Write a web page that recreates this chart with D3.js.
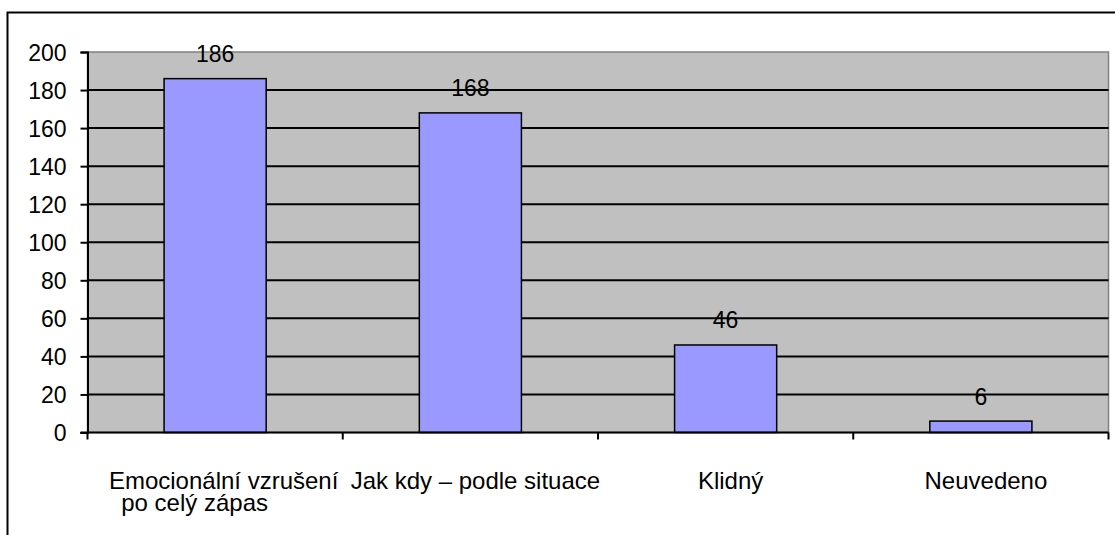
<!DOCTYPE html>
<html>
<head>
<meta charset="utf-8">
<script src="https://cdnjs.cloudflare.com/ajax/libs/d3/7.8.5/d3.min.js"></script>
<style>
body { margin: 0; background: #fff; }
svg text { font-family: Arial, "Liberation Sans", sans-serif; fill: #000; }
</style>
</head>
<body>
<div id="chart"></div>
<script>
// data
var categories = ["Emocionální vzrušení po celý zápas", "Jak kdy – podle situace", "Klidný", "Neuvedeno"];
var labelLines = [["Emocionální vzrušení", "po celý zápas"], ["Jak kdy – podle situace"], ["Klidný"], ["Neuvedeno"]];
var values = [186, 168, 46, 6];
var yTicks = [0, 20, 40, 60, 80, 100, 120, 140, 160, 180, 200];

var W = 1115, H = 535;
var plot = { left: 87.5, top: 52, right: 1108.5, bottom: 432.5 };
var fontSize = 23;
var catFontSize = 24;

var svg = d3.select("#chart").append("svg")
	.attr("width", W)
	.attr("height", H);

// outer chart frame (runs off the right and bottom edges)
svg.append("rect")
	.attr("x", 7.5).attr("y", 12.5)
	.attr("width", W + 20).attr("height", H + 20)
	.attr("fill", "#fff")
	.attr("stroke", "#000")
	.attr("stroke-width", 2);

var x = d3.scaleBand()
	.domain(categories)
	.range([plot.left, plot.right])
	.paddingInner(0.6)
	.paddingOuter(0.3);

var xCell = d3.scaleBand()
	.domain(categories)
	.range([plot.left, plot.right])
	.padding(0);

var y = d3.scaleLinear()
	.domain([0, 200])
	.range([plot.bottom, plot.top]);

// plot background
svg.append("rect")
	.attr("x", plot.left).attr("y", plot.top)
	.attr("width", plot.right - plot.left)
	.attr("height", plot.bottom - plot.top)
	.attr("fill", "#c0c0c0")
	.attr("stroke", "#808080")
	.attr("stroke-width", 1.5);

// gridlines
svg.append("g").selectAll("line")
	.data(yTicks.filter(function(d) { return d > 0 && d < 200; }))
	.enter().append("line")
	.attr("x1", plot.left).attr("x2", plot.right)
	.attr("y1", function(d) { return y(d); })
	.attr("y2", function(d) { return y(d); })
	.attr("stroke", "#000")
	.attr("stroke-width", 2);

// bars
svg.append("g").selectAll("rect")
	.data(values)
	.enter().append("rect")
	.attr("x", function(d, i) { return x(categories[i]); })
	.attr("y", function(d) { return y(d); })
	.attr("width", x.bandwidth())
	.attr("height", function(d) { return y(0) - y(d); })
	.attr("fill", "#9999ff")
	.attr("stroke", "#000")
	.attr("stroke-width", 1.5);

// value labels
svg.append("g").selectAll("text")
	.data(values)
	.enter().append("text")
	.attr("x", function(d, i) { return x(categories[i]) + x.bandwidth() / 2; })
	.attr("y", function(d) { return y(d) - 16.5; })
	.attr("text-anchor", "middle")
	.style("font-size", fontSize + "px")
	.text(function(d) { return d; });

// y axis
var yAxis = svg.append("g")
	.attr("transform", "translate(" + plot.left + ",0)")
	.call(d3.axisLeft(y).tickValues(yTicks).tickSize(7).tickPadding(14));
yAxis.select(".domain").attr("stroke", "#000").attr("stroke-width", 2);
yAxis.selectAll(".tick line").attr("stroke", "#000").attr("stroke-width", 2);
yAxis.selectAll(".tick text")
	.attr("dy", "0.36em")
	.style("font-size", fontSize + "px")
	.style("font-family", "Arial, 'Liberation Sans', sans-serif");

// x axis line and boundary ticks
var xAxis = svg.append("g")
	.attr("transform", "translate(0," + plot.bottom + ")");
xAxis.append("line")
	.attr("x1", plot.left - 7).attr("x2", plot.right)
	.attr("stroke", "#000").attr("stroke-width", 2);
var boundaries = categories.map(function(c) { return xCell(c); }).concat([plot.right]);
xAxis.selectAll(".xtick")
	.data(boundaries)
	.enter().append("line")
	.attr("class", "xtick")
	.attr("x1", function(d) { return d; })
	.attr("x2", function(d) { return d; })
	.attr("y1", 0).attr("y2", 7)
	.attr("stroke", "#000").attr("stroke-width", 2);

// category labels
var catLabels = svg.append("g").selectAll("text")
	.data(labelLines)
	.enter().append("text")
	.attr("text-anchor", "middle")
	.attr("transform", function(d, i) {
		var cx = xCell(categories[i]) + xCell.bandwidth() / 2;
		return "translate(" + (cx + (d.length > 1 ? 8.5 : 5)) + "," + 488.5 + ")";
	})
	.style("font-size", catFontSize + "px");
catLabels.selectAll("tspan")
	.data(function(d) { return d; })
	.enter().append("tspan")
	.attr("x", function(d, i) { return i === 0 ? 0 : -29; })
	.attr("dy", function(d, i) { return i === 0 ? 0 : 22; })
	.text(function(d) { return d; });
</script>
</body>
</html>
